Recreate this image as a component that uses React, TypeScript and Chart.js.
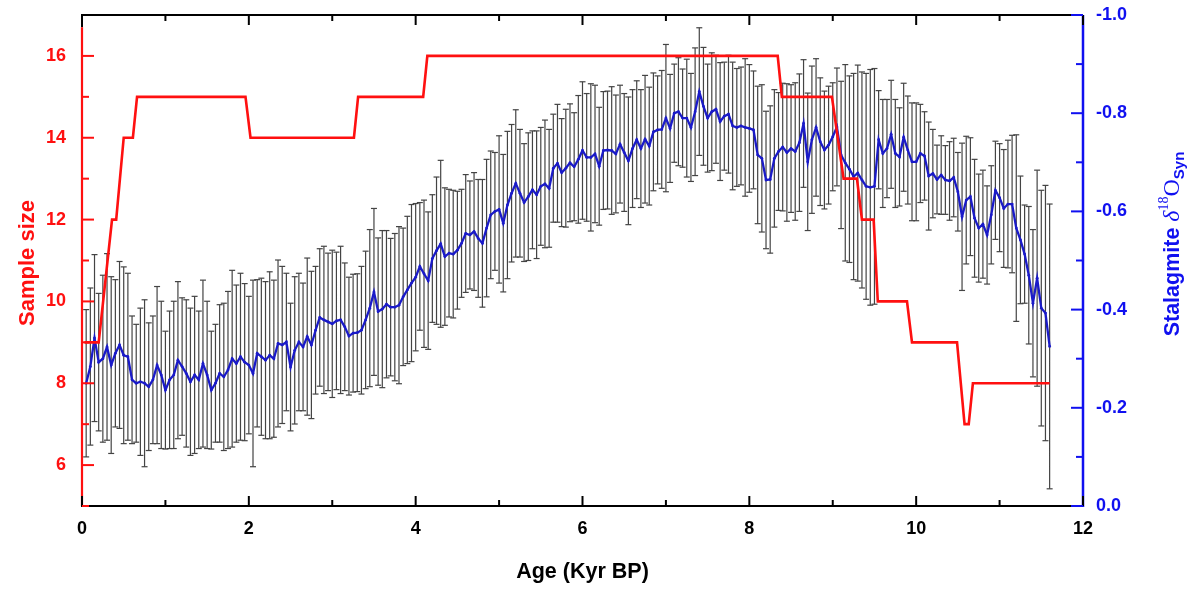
import React, { useEffect, useRef } from 'react';
import { Chart, registerables } from 'chart.js';

Chart.register(...registerables);

// ---- data ----
const AGE_START = 0.05; // kyr BP of first stalagmite sample
const AGE_STEP = 0.05; // kyr spacing of the synthesized record

const D18O = [
  -0.250, -0.284, -0.342, -0.293, -0.300, -0.324, -0.287, -0.311, -0.328, -0.307,
  -0.304, -0.257, -0.250, -0.253, -0.250, -0.243, -0.257, -0.287, -0.267, -0.236,
  -0.257, -0.267, -0.297, -0.284, -0.270, -0.253, -0.267, -0.257, -0.290, -0.267,
  -0.236, -0.250, -0.270, -0.263, -0.277, -0.300, -0.290, -0.304, -0.293, -0.287,
  -0.270, -0.311, -0.304, -0.297, -0.307, -0.300, -0.331, -0.328,
  -0.334, -0.283, -0.317, -0.334, -0.324, -0.345, -0.328, -0.358, -0.384, -0.379,
  -0.375, -0.371, -0.377, -0.379, -0.365, -0.346, -0.352, -0.353, -0.358, -0.379,
  -0.403, -0.436, -0.396, -0.401, -0.411, -0.405, -0.405, -0.409, -0.426, -0.440,
  -0.454, -0.466, -0.488, -0.473, -0.459, -0.504, -0.520, -0.534, -0.508, -0.515,
  -0.513, -0.521, -0.535, -0.555, -0.552, -0.559, -0.545, -0.535,
  -0.566, -0.593, -0.600, -0.604, -0.576, -0.613, -0.637, -0.657, -0.637, -0.618,
  -0.630, -0.644, -0.634, -0.651, -0.656, -0.647, -0.688, -0.698, -0.679, -0.688,
  -0.699, -0.691, -0.706, -0.724, -0.710, -0.710, -0.717, -0.692, -0.724, -0.725,
  -0.724, -0.717, -0.737, -0.720, -0.703, -0.728, -0.746, -0.728, -0.747, -0.733,
  -0.762, -0.766, -0.767, -0.790, -0.769, -0.800, -0.803, -0.790,
  -0.790, -0.771, -0.803, -0.844, -0.814, -0.790, -0.803, -0.808, -0.783, -0.794,
  -0.798, -0.774, -0.771, -0.774, -0.771, -0.769, -0.766, -0.715, -0.708, -0.664,
  -0.665, -0.708, -0.722, -0.731, -0.720, -0.728, -0.722, -0.740, -0.779, -0.701,
  -0.746, -0.771, -0.742, -0.725, -0.735, -0.752, -0.772, -0.715, -0.699, -0.686,
  -0.671, -0.678, -0.664, -0.651, -0.649, -0.651, -0.746, -0.718,
  -0.728, -0.757, -0.718, -0.711, -0.751, -0.725, -0.701, -0.701, -0.718, -0.713,
  -0.672, -0.677, -0.665, -0.674, -0.664, -0.662, -0.669, -0.640, -0.589, -0.623,
  -0.630, -0.586, -0.566, -0.574, -0.552, -0.593, -0.643, -0.628, -0.606, -0.615,
  -0.615, -0.566, -0.542, -0.513, -0.470, -0.413, -0.464, -0.403, -0.393, -0.325,
];

const D18O_ERR = [
  0.15, 0.16, 0.17, 0.14, 0.17, 0.19, 0.18, 0.15, 0.17, 0.18,
  0.17, 0.13, 0.12, 0.15, 0.17, 0.13, 0.13, 0.16, 0.15, 0.12,
  0.14, 0.15, 0.16, 0.14, 0.15, 0.15, 0.16, 0.14, 0.17, 0.15,
  0.12, 0.12, 0.14, 0.15, 0.16, 0.18, 0.16, 0.17, 0.16, 0.14,
  0.19, 0.15, 0.16, 0.16, 0.17, 0.16, 0.17, 0.16,
  0.14, 0.13, 0.15, 0.14, 0.13, 0.16, 0.15, 0.13, 0.14, 0.15,
  0.14, 0.15, 0.14, 0.15, 0.13, 0.12, 0.12, 0.12, 0.13, 0.14,
  0.16, 0.17, 0.15, 0.16, 0.15, 0.14, 0.15, 0.16, 0.14, 0.15,
  0.16, 0.15, 0.13, 0.15, 0.14, 0.13, 0.15, 0.17, 0.14, 0.13,
  0.13, 0.12, 0.11, 0.12, 0.11, 0.12, 0.12, 0.13,
  0.14, 0.13, 0.12, 0.15, 0.14, 0.15, 0.14, 0.15, 0.13, 0.12,
  0.13, 0.12, 0.13, 0.12, 0.13, 0.12, 0.11, 0.12, 0.11, 0.12,
  0.12, 0.11, 0.13, 0.14, 0.13, 0.15, 0.14, 0.12, 0.12, 0.12,
  0.13, 0.12, 0.12, 0.12, 0.13, 0.12, 0.12, 0.12, 0.13, 0.12,
  0.12, 0.11, 0.12, 0.15, 0.11, 0.10, 0.11, 0.10,
  0.12, 0.11, 0.13, 0.13, 0.12, 0.11, 0.12, 0.11, 0.12, 0.11,
  0.12, 0.13, 0.12, 0.12, 0.14, 0.13, 0.12, 0.14, 0.15, 0.14,
  0.15, 0.14, 0.12, 0.13, 0.14, 0.13, 0.14, 0.14, 0.13, 0.14,
  0.15, 0.14, 0.13, 0.12, 0.12, 0.11, 0.12, 0.15, 0.20, 0.19,
  0.21, 0.22, 0.22, 0.23, 0.24, 0.24, 0.10, 0.11,
  0.10, 0.11, 0.11, 0.10, 0.11, 0.11, 0.12, 0.12, 0.10, 0.09,
  0.11, 0.09, 0.07, 0.08, 0.07, 0.08, 0.08, 0.08, 0.15, 0.13,
  0.12, 0.12, 0.11, 0.11, 0.10, 0.10, 0.10, 0.11, 0.12, 0.13,
  0.14, 0.19, 0.13, 0.10, 0.14, 0.15, 0.22, 0.24, 0.26, 0.29,
];

const SAMPLE_AGE = [
  0.03, 0.2, 0.36, 0.41, 0.5, 0.61, 0.66, 1.96, 2.02, 3.26, 3.31, 4.09, 4.14,
  8.34, 8.39, 8.99, 9.13, 9.29, 9.35, 9.49, 9.54, 9.89, 9.95, 10.49, 10.58, 10.63, 10.68, 11.6,
];
const SAMPLE_SIZE = [
  9, 9, 12, 12, 14, 14, 15, 15, 14, 14, 15, 15, 16,
  16, 15, 15, 13, 13, 12, 12, 10, 10, 9, 9, 7, 7, 8, 8,
];

const X_TICKS = [0, 2, 4, 6, 8, 10, 12];
const X_MINOR = [1, 3, 5, 7, 9, 11];
const LEFT_TICKS = [6, 8, 10, 12, 14, 16];
const LEFT_MINOR = [5, 7, 9, 11, 13, 15, 17];
const RIGHT_TICKS = [-1.0, -0.8, -0.6, -0.4, -0.2, 0.0];
const RIGHT_MINOR = [-0.9, -0.7, -0.5, -0.3, -0.1];

const RED = '#ff1010';
const BLUE = '#1010f0';
const LINE_BLUE = '#1a1ac8';
const ERR_COLOR = '#444444';
const SANS = '"Liberation Sans", Arial, Helvetica, sans-serif';
const SERIF = '"Liberation Serif", "Times New Roman", serif';

const framePlugin = {
  id: 'frameTicks',
  afterDraw(chart: any) {
    const { ctx, chartArea: a, scales } = chart;
    const sx = scales.x;
    const sy = scales.y;
    const sy2 = scales.y2;
    const seg = (x1: number, y1: number, x2: number, y2: number) => {
      ctx.beginPath();
      ctx.moveTo(x1, y1);
      ctx.lineTo(x2, y2);
      ctx.stroke();
    };
    ctx.save();
    ctx.lineCap = 'butt';
    // frame
    ctx.strokeStyle = '#000';
    ctx.lineWidth = 2;
    seg(a.left - 1, a.top, a.right, a.top);
    seg(a.left - 1, a.bottom, a.right, a.bottom);
    seg(a.left, a.top, a.left, sy.getPixelForValue(16.7));
    ctx.strokeStyle = RED;
    ctx.lineWidth = 2.2;
    seg(a.left, sy.getPixelForValue(16.7), a.left, a.bottom);
    ctx.strokeStyle = BLUE;
    ctx.lineWidth = 2.5;
    seg(a.right, a.top, a.right, a.bottom + 1);

    // x ticks (inside, top and bottom)
    ctx.strokeStyle = '#000';
    ctx.lineWidth = 2;
    X_TICKS.forEach((v) => {
      const p = sx.getPixelForValue(v);
      seg(p, a.bottom, p, a.bottom - 10);
      seg(p, a.top, p, a.top + 10);
    });
    X_MINOR.forEach((v) => {
      const p = sx.getPixelForValue(v);
      seg(p, a.bottom, p, a.bottom - 6);
      seg(p, a.top, p, a.top + 6);
    });
    // left ticks
    ctx.strokeStyle = RED;
    LEFT_TICKS.forEach((v) => {
      const p = sy.getPixelForValue(v);
      seg(a.left, p, a.left + 12, p);
    });
    LEFT_MINOR.forEach((v) => {
      if (v > 16.7) return;
      const p = sy.getPixelForValue(v);
      seg(a.left, p, a.left + 7, p);
    });
    // right ticks
    ctx.strokeStyle = BLUE;
    RIGHT_TICKS.forEach((v) => {
      const p = sy2.getPixelForValue(v);
      seg(a.right, p, a.right - 12, p);
    });
    RIGHT_MINOR.forEach((v) => {
      const p = sy2.getPixelForValue(v);
      seg(a.right, p, a.right - 7, p);
    });

    // titles
    ctx.fillStyle = '#000';
    ctx.font = `bold 21.5px ${SANS}`;
    ctx.textAlign = 'center';
    ctx.textBaseline = 'middle';
    ctx.fillText('Age (Kyr BP)', (a.left + a.right) / 2, 572);

    ctx.save();
    ctx.translate(34, 263);
    ctx.rotate(-Math.PI / 2);
    ctx.fillStyle = RED;
    ctx.textAlign = 'center';
    ctx.textBaseline = 'alphabetic';
    ctx.font = `bold 22px ${SANS}`;
    ctx.fillText('Sample size', 0, 0);
    ctx.restore();

    ctx.save();
    ctx.translate(1179, 244);
    ctx.rotate(-Math.PI / 2);
    ctx.fillStyle = BLUE;
    ctx.textAlign = 'left';
    ctx.textBaseline = 'alphabetic';
    const parts = [
      { t: 'Stalagmite ', f: `bold 21.5px ${SANS}`, dy: 0 },
      { t: 'δ', f: `italic 24px ${SERIF}`, dy: 0 },
      { t: '18', f: `14px ${SERIF}`, dy: -11 },
      { t: 'O', f: `24px ${SERIF}`, dy: 0 },
      { t: 'Syn', f: `bold 15px ${SANS}`, dy: 5 },
    ];
    let total = 0;
    parts.forEach((p) => {
      ctx.font = p.f;
      total += ctx.measureText(p.t).width;
    });
    let cx = -total / 2;
    parts.forEach((p) => {
      ctx.font = p.f;
      ctx.fillText(p.t, cx, p.dy);
      cx += ctx.measureText(p.t).width;
    });
    ctx.restore();

    ctx.restore();
  },
};

const zeroPad = (s: any) => {
  s.paddingTop = 0;
  s.paddingBottom = 0;
  s.paddingLeft = 0;
  s.paddingRight = 0;
};

export default function App() {
  const ref = useRef<HTMLCanvasElement | null>(null);

  useEffect(() => {
    const canvas = ref.current;
    if (!canvas) return;

    const ages = D18O.map((_, i) => +(AGE_START + i * AGE_STEP).toFixed(2));
    const meanPts = D18O.map((v, i) => ({ x: ages[i], y: v }));
    const barPts: any[] = [];
    const capPts: any[] = [];
    D18O.forEach((v, i) => {
      const lo = v - D18O_ERR[i];
      const hi = v + D18O_ERR[i];
      barPts.push({ x: ages[i], y: lo }, { x: ages[i], y: hi }, { x: ages[i], y: null });
      capPts.push({ x: ages[i], y: lo }, { x: ages[i], y: hi });
    });
    const samplePts = SAMPLE_AGE.map((a, i) => ({ x: a, y: SAMPLE_SIZE[i] }));

    const chart = new Chart(canvas, {
      type: 'line',
      data: {
        datasets: [
          {
            label: 'Sample size',
            data: samplePts,
            yAxisID: 'y',
            borderColor: RED,
            borderWidth: 2.6,
            pointRadius: 0,
            tension: 0,
            order: 0,
          },
          {
            label: 'Stalagmite d18O',
            data: meanPts,
            yAxisID: 'y2',
            borderColor: LINE_BLUE,
            backgroundColor: LINE_BLUE,
            borderWidth: 2.3,
            pointRadius: 1.4,
            pointBorderWidth: 0,
            pointBackgroundColor: LINE_BLUE,
            tension: 0,
            order: 1,
          },
          {
            label: 'caps',
            data: capPts,
            yAxisID: 'y2',
            showLine: false,
            pointStyle: 'line',
            pointRadius: 3,
            pointBorderColor: ERR_COLOR,
            pointBorderWidth: 1.2,
            order: 2,
          },
          {
            label: 'error',
            data: barPts,
            yAxisID: 'y2',
            borderColor: ERR_COLOR,
            borderWidth: 1.2,
            pointRadius: 0,
            spanGaps: false,
            tension: 0,
            order: 3,
          },
        ] as any,
      },
      options: {
        responsive: false,
        animation: false,
        events: [],
        layout: { padding: { top: 15, left: 0, right: 0, bottom: 0 } },
        plugins: {
          legend: { display: false },
          tooltip: { enabled: false },
        },
        scales: {
          x: {
            type: 'linear',
            position: 'bottom',
            min: 0,
            max: 12,
            grid: { display: false, drawTicks: false },
            border: { display: false },
            ticks: {
              color: '#000',
              font: { family: SANS, size: 18, weight: 'bold' },
              padding: 12,
              autoSkip: false,
              maxRotation: 0,
            },
            afterBuildTicks: (s: any) => {
              s.ticks = X_TICKS.map((v) => ({ value: v }));
            },
            afterFit: (s: any) => {
              s.height = 86;
              zeroPad(s);
            },
          },
          y: {
            type: 'linear',
            position: 'left',
            min: 5,
            max: 17,
            grid: { display: false, drawTicks: false },
            border: { display: false },
            ticks: {
              color: RED,
              font: { family: SANS, size: 18, weight: 'bold' },
              padding: 16,
            },
            afterBuildTicks: (s: any) => {
              s.ticks = LEFT_TICKS.map((v) => ({ value: v }));
            },
            afterFit: (s: any) => {
              s.width = 82;
              zeroPad(s);
            },
          },
          y2: {
            type: 'linear',
            position: 'right',
            min: -1,
            max: 0,
            reverse: true,
            grid: { display: false, drawTicks: false },
            border: { display: false },
            ticks: {
              color: BLUE,
              font: { family: SANS, size: 18, weight: 'bold' },
              padding: 13,
              callback: (v: any) => Number(v).toFixed(1).replace('-0.0', '0.0'),
            },
            afterBuildTicks: (s: any) => {
              s.ticks = RIGHT_TICKS.map((v) => ({ value: v }));
            },
            afterFit: (s: any) => {
              s.width = 114;
              zeroPad(s);
            },
          },
        },
      } as any,
      plugins: [framePlugin],
    });

    return () => {
      chart.destroy();
    };
  }, []);

  return (
    <div style={{ position: 'absolute', left: 0, top: 0, width: 1197, height: 592, background: '#fff' }}>
      <canvas ref={ref} width={1197} height={592} style={{ display: 'block' }} />
    </div>
  );
}
